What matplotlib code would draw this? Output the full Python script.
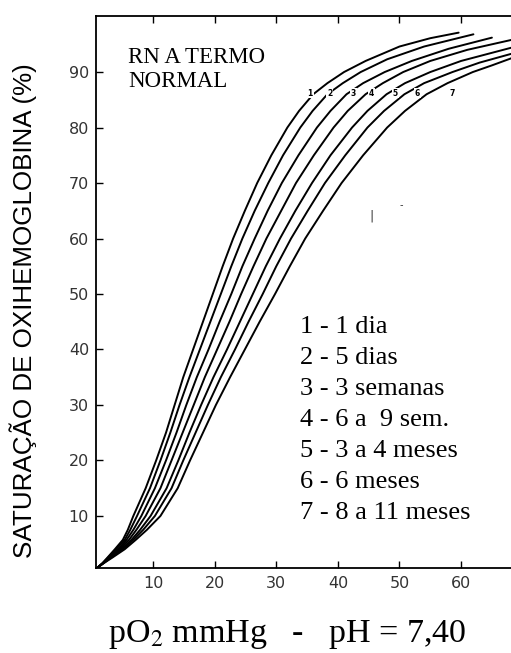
import matplotlib
matplotlib.use("Agg")
import matplotlib.pyplot as plt

# saturation levels shared by all curves (%), pO2 read per curve (mmHg)
sat = [0.8, 1.5, 2.5, 4, 5.7, 7.5, 10, 15, 20, 25, 30, 35, 40, 45, 50,
       55, 60, 65, 70, 75, 80, 83, 86, 88, 90]
po2_1 = [1.1, 1.8, 2.6, 3.8, 5.1, 5.9, 6.8, 8.8, 10.5, 12.1, 13.5, 14.9, 16.5,
         18.1, 19.7, 21.3, 23.0, 24.9, 26.9, 29.2, 31.8, 33.7, 36.0, 38.3, 41.0]
po2_2 = [1.1, 1.8, 2.7, 4.0, 5.4, 6.3, 7.4, 9.5, 11.2, 12.8, 14.3, 15.9, 17.6,
         19.3, 21.0, 22.7, 24.5, 26.5, 28.7, 31.1, 33.9, 35.9, 38.3, 40.8, 43.7]
po2_3 = [1.1, 1.9, 2.8, 4.3, 5.7, 6.8, 8.1, 10.3, 12.1, 13.8, 15.4, 17.1, 19.0,
         20.8, 22.7, 24.5, 26.5, 28.6, 30.9, 33.6, 36.6, 38.8, 41.4, 44.1, 47.6]
po2_4 = [1.1, 1.9, 3.0, 4.5, 6.1, 7.3, 8.8, 11.2, 13.0, 14.8, 16.6, 18.4, 20.4,
         22.4, 24.3, 26.3, 28.4, 30.8, 33.2, 36.1, 39.3, 41.6, 44.5, 47.3, 50.6]
po2_5 = [1.1, 1.9, 3.1, 4.8, 6.5, 7.9, 9.6, 12.2, 14.1, 15.9, 17.8, 19.8, 22.0,
         24.1, 26.2, 28.3, 30.6, 33.1, 35.8, 38.8, 42.3, 44.8, 47.9, 50.9, 55.0]
po2_6 = [1.1, 2.0, 3.2, 5.1, 6.8, 8.4, 10.3, 13.0, 14.9, 16.9, 18.9, 21.0, 23.3,
         25.5, 27.8, 30.0, 32.4, 35.1, 37.9, 41.2, 44.8, 47.5, 50.8, 54.0, 58.6]
po2_7 = [1.1, 2.0, 3.4, 5.4, 7.2, 9.0, 11.2, 14.0, 16.0, 18.1, 20.2, 22.5, 24.9,
         27.3, 29.8, 32.2, 34.7, 37.6, 40.6, 44.1, 48.0, 50.9, 54.4, 57.8, 61.9]

# upper tails (pO2, sat) of each curve
tail_po2 = [[44.5, 50.0, 55.0, 59.6], [48.0, 54.0, 62.0], [52.0, 58.0, 65.0],
            [55.0, 61.0, 68.2], [60.0, 68.2], [63.0, 68.2], [65.0, 68.2]]
tail_sat = [[92.0, 94.6, 96.1, 97.1], [92.3, 94.6, 96.8], [92.0, 94.2, 96.2],
            [92.0, 94.0, 95.8], [92.0, 94.4], [91.7, 93.3], [91.2, 92.5]]

curve_ids = ["1", "2", "3", "4", "5", "6", "7"]
legend_lines = ["1 - 1 dia", "2 - 5 dias", "3 - 3 semanas", "4 - 6 a  9 sem.",
                "5 - 3 a 4 meses", "6 - 6 meses", "7 - 8 a 11 meses"]
xticks = [10, 20, 30, 40, 50, 60]
yticks = [10, 20, 30, 40, 50, 60, 70, 80, 90]

plt.rcParams["mathtext.fontset"] = "stix"

fig = plt.figure(figsize=(5.11, 6.53), dpi=100)
ax = fig.add_axes([0.188, 0.130, 0.812, 0.8455])

curves = [po2_1, po2_2, po2_3, po2_4, po2_5, po2_6, po2_7]
for i, xs in enumerate(curves):
    ax.plot(xs + tail_po2[i], sat + tail_sat[i], color="black", lw=1.4,
            solid_capstyle="round", solid_joinstyle="round")

# small curve numbers near the top of the curves
label_x = [35.5, 38.7, 42.5, 45.5, 49.3, 52.9, 58.6]
for cid, lx in zip(curve_ids, label_x):
    ax.text(lx, 86.2, cid, fontsize=5.5, fontweight="bold", ha="center",
            va="center", family="DejaVu Sans",
            bbox=dict(boxstyle="square,pad=0.1", fc="white", ec="none"))

ax.text(6.0, 90.4, "RN A TERMO\nNORMAL", family="Liberation Serif",
        fontsize=16.5, va="center", ha="left", linespacing=1.2)

for i, line in enumerate(legend_lines):
    ax.text(33.9, 44.1 - i * 5.58, line, family="Liberation Serif",
            fontsize=19, va="center", ha="left")

# stray marks in the scanned original
ax.text(45.4, 64.0, "|", fontsize=9, ha="center", va="center", color="#333")
ax.text(50.3, 66.0, "-", fontsize=7, ha="center", va="center", color="#333")

ax.set_xlim(0.75, 68.1)
ax.set_ylim(0.6, 100.1)
ax.set_xticks(xticks)
ax.set_yticks(yticks)
ax.tick_params(axis="both", direction="in", length=5, width=1.0,
               labelsize=11.5, labelcolor="#333", top=True)
ax.tick_params(axis="x", pad=6)
ax.tick_params(axis="y", pad=5)
for s in ("left", "top", "bottom"):
    ax.spines[s].set_linewidth(1.3)
ax.spines["right"].set_visible(False)

fig.text(0.046, 0.524, "SATURAÇÃO DE OXIHEMOGLOBINA (%)", rotation=90,
         family="Liberation Sans", fontsize=18.7, ha="center", va="center")
fig.text(0.562, 0.028, r"pO$_2$ mmHg   -   pH = 7,40", family="Liberation Serif",
         fontsize=24.5, ha="center", va="center")

fig.savefig("out.png", dpi=100)
